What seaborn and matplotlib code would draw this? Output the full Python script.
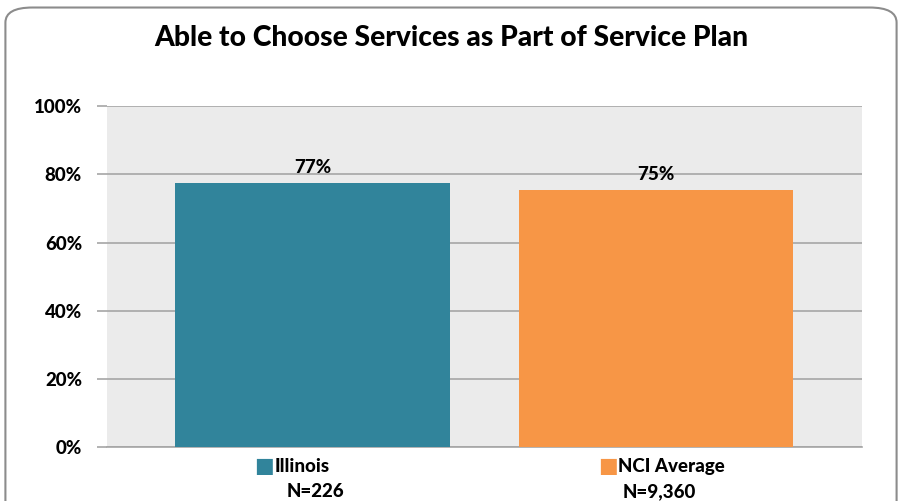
import numpy as np
import pandas as pd
import seaborn as sns
import matplotlib.pyplot as plt
from matplotlib.patches import FancyBboxPatch
from matplotlib.transforms import blended_transform_factory

# Data
groups = ["Illinois", "NCI Average"]
sample_sizes = ["N=226", "N=9,360"]
percent = [77.4, 75.4]
shown_labels = ["77%", "75%"]
colors = ["#31849B", "#F79646"]

df = pd.DataFrame({"group": groups, "percent": percent})

sns.set_theme(style="white")
plt.rcParams["font.family"] = ["Lato", "DejaVu Sans"]
plt.rcParams["text.color"] = "black"
plt.rcParams["ytick.labelcolor"] = "black"
W = "black"

fig = plt.figure(figsize=(9.02, 5.01), dpi=100)
ax = fig.add_axes([0.1186, 0.1078, 0.9557 - 0.1186, 0.788 - 0.1078])

# Rounded frame around the chart
frame = FancyBboxPatch((0.006, -0.05), 0.988, 1.035, transform=fig.transFigure,
                       boxstyle="round,pad=0,rounding_size=0.03",
                       facecolor="none", edgecolor="#8c8c8c", linewidth=1.5)
fig.patches.append(frame)

sns.barplot(data=df, x="group", y="percent", hue="group", palette=colors,
            width=0.8, saturation=1, legend=False, ax=ax, zorder=3,
            edgecolor="none", linewidth=0)

ax.set_facecolor("#EBEBEB")
ax.set_xlim(-0.598, 1.6)
ax.set_ylim(0, 100)
ax.set_yticks(np.arange(0, 101, 20))
ax.set_yticklabels([f"{v}%" for v in range(0, 101, 20)],
                   fontsize=13.5, fontweight=W, color="black")
ax.yaxis.grid(True, color="#A6A6A6", linewidth=1.2, zorder=0)
ax.set_axisbelow(True)
ax.tick_params(axis="y", length=7, color="#A6A6A6", width=1.2, left=True, pad=11)
for side in ["top", "right", "left"]:
    ax.spines[side].set_visible(False)
ax.spines["bottom"].set_color("#A6A6A6")
ax.spines["bottom"].set_linewidth(1.2)
ax.set_xticks([])
ax.set_xlabel("")
ax.set_ylabel("")

# Value labels above bars
for i, (val, lab) in enumerate(zip(percent, shown_labels)):
    ax.text(i, val + 2, lab, ha="center", va="bottom",
            fontsize=13.5, fontweight=W)

# Legend-like category labels under bars
trans = blended_transform_factory(ax.transData, ax.transAxes)
for i, (g, n, c) in enumerate(zip(groups, sample_sizes, colors)):
    ax.text(i - 0.14, -0.056, "\u25A0", color=c, transform=trans,
            ha="center", va="center", fontsize=15, clip_on=False)
    ax.text(i - 0.11, -0.056, g, transform=trans, ha="left", va="center",
            fontsize=13.5, fontweight=W, clip_on=False)
    ax.text(i + 0.01, -0.13, n, transform=trans, ha="center", va="center",
            fontsize=13.5, fontweight=W, clip_on=False)

fig.text(0.5, 0.924, "Able to Choose Services as Part of Service Plan",
         ha="center", va="center", fontsize=20.3, fontweight=W)

fig.savefig("out.png", dpi=100)
